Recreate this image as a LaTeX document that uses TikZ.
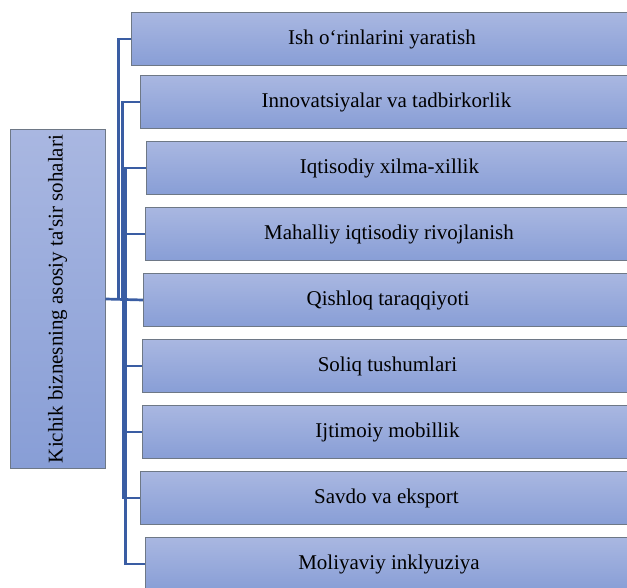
\documentclass[tikz,border=0pt]{standalone}
\usepackage{fontspec}
\setmainfont{Liberation Serif}
\definecolor{boxtop}{HTML}{A9B7E1}
\definecolor{boxbot}{HTML}{889ED6}
\definecolor{boxline}{HTML}{6E7886}
\definecolor{connblue}{HTML}{3A5DA3}
\tikzset{
  itembox/.style={draw=boxline, line width=1pt, top color=boxtop, bottom color=boxbot,
    minimum height=53pt, inner sep=0pt, anchor=north west,
    font=\fontsize{21}{24}\selectfont, text=black},
  rootbox/.style={draw=boxline, line width=1pt, top color=boxtop, bottom color=boxbot,
    minimum width=338pt, minimum height=95pt, inner sep=0pt, rotate=90,
    font=\fontsize{21}{24}\selectfont, text=black},
  conn/.style={draw=connblue, line width=2.7pt}
}
\begin{document}
\begin{tikzpicture}[x=1pt,y=-1pt]
\useasboundingbox (0,0) rectangle (627,588);
\clip (0,0) rectangle (627,588);
\node[rootbox] (root) at (57.5,299) {Kichik biznesning asosiy ta\textquotesingle sir sohalari};
\node[itembox, minimum width=501pt] (b1) at (131,12) {Ish o‘rinlarini yaratish};
\node[itembox, minimum width=492pt] (b2) at (140,75) {Innovatsiyalar va tadbirkorlik};
\node[itembox, minimum width=486pt] (b3) at (146,141) {Iqtisodiy xilma-xillik};
\node[itembox, minimum width=487pt] (b4) at (145,207) {Mahalliy iqtisodiy rivojlanish};
\node[itembox, minimum width=489pt] (b5) at (143,273) {Qishloq taraqqiyoti};
\node[itembox, minimum width=490pt] (b6) at (142,339) {Soliq tushumlari};
\node[itembox, minimum width=490pt] (b7) at (142,405) {Ijtimoiy mobillik};
\node[itembox, minimum width=492pt] (b8) at (140,471) {Savdo va eksport};
\node[itembox, minimum width=487pt] (b9) at (145,537) {Moliyaviy inklyuziya};
\draw[conn] (root.south) -- ++(13,0) |- (b1.west);
\draw[conn] (root.south) -- ++(17,0) |- (b2.west);
\draw[conn] (root.south) -- ++(20,0) |- (b3.west);
\draw[conn] (root.south) -- ++(20,0) |- (b4.west);
\draw[conn] (root.south) -- (b5.west);
\draw[conn] (root.south) -- ++(19,0) |- (b6.west);
\draw[conn] (root.south) -- ++(19,0) |- (b7.west);
\draw[conn] (root.south) -- ++(18,0) |- (b8.west);
\draw[conn] (root.south) -- ++(20,0) |- (b9.west);
\end{tikzpicture}
\end{document}
